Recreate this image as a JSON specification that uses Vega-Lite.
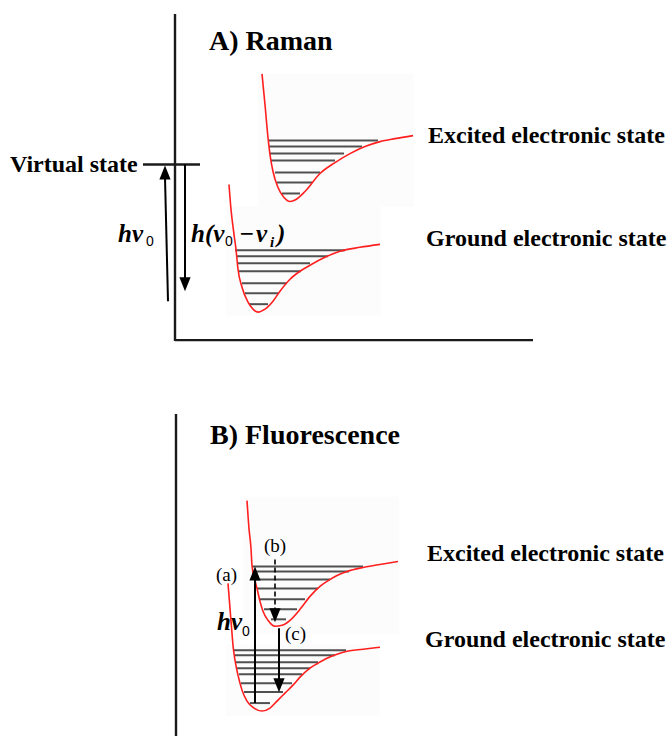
{
  "$schema": "https://vega.github.io/schema/vega-lite/v6.json",
  "width": 670,
  "height": 738,
  "autosize": {"type": "fit", "contains": "padding"},
  "padding": 0,
  "background": "white",
  "view": {"stroke": null},
  "datasets": {
    "panels": [
      {"x": 258, "x2": 414, "y": 74, "y2": 207},
      {"x": 226, "x2": 381, "y": 207, "y2": 317},
      {"x": 243, "x2": 399, "y": 498, "y2": 636},
      {"x": 226, "x2": 380, "y": 646, "y2": 718}
    ],
    "curves": [
      {"c": "EA", "x": 262, "y": 74}, {"c": "EA", "x": 265, "y": 105}, {"c": "EA", "x": 268, "y": 138},
      {"c": "EA", "x": 270, "y": 155}, {"c": "EA", "x": 273, "y": 172}, {"c": "EA", "x": 278, "y": 188},
      {"c": "EA", "x": 284, "y": 198}, {"c": "EA", "x": 290, "y": 202}, {"c": "EA", "x": 296, "y": 200},
      {"c": "EA", "x": 305, "y": 192}, {"c": "EA", "x": 320, "y": 174}, {"c": "EA", "x": 335, "y": 163},
      {"c": "EA", "x": 350, "y": 154}, {"c": "EA", "x": 365, "y": 147}, {"c": "EA", "x": 380, "y": 142},
      {"c": "EA", "x": 395, "y": 139}, {"c": "EA", "x": 413, "y": 136},
      {"c": "GA", "x": 229, "y": 185}, {"c": "GA", "x": 231, "y": 210}, {"c": "GA", "x": 234, "y": 235},
      {"c": "GA", "x": 236, "y": 250}, {"c": "GA", "x": 238, "y": 270}, {"c": "GA", "x": 242, "y": 288},
      {"c": "GA", "x": 248, "y": 303}, {"c": "GA", "x": 253, "y": 310}, {"c": "GA", "x": 258, "y": 313},
      {"c": "GA", "x": 265, "y": 310}, {"c": "GA", "x": 273, "y": 302}, {"c": "GA", "x": 280, "y": 292},
      {"c": "GA", "x": 290, "y": 280}, {"c": "GA", "x": 300, "y": 272}, {"c": "GA", "x": 310, "y": 266},
      {"c": "GA", "x": 325, "y": 258}, {"c": "GA", "x": 340, "y": 252}, {"c": "GA", "x": 360, "y": 248},
      {"c": "GA", "x": 380, "y": 245},
      {"c": "EB", "x": 247, "y": 502}, {"c": "EB", "x": 249, "y": 530}, {"c": "EB", "x": 251, "y": 550},
      {"c": "EB", "x": 252, "y": 567}, {"c": "EB", "x": 255, "y": 582}, {"c": "EB", "x": 257, "y": 590},
      {"c": "EB", "x": 260, "y": 603}, {"c": "EB", "x": 263, "y": 613}, {"c": "EB", "x": 268, "y": 622},
      {"c": "EB", "x": 275, "y": 628}, {"c": "EB", "x": 282, "y": 627}, {"c": "EB", "x": 290, "y": 622},
      {"c": "EB", "x": 300, "y": 611}, {"c": "EB", "x": 310, "y": 598}, {"c": "EB", "x": 320, "y": 588},
      {"c": "EB", "x": 327, "y": 583}, {"c": "EB", "x": 337, "y": 577}, {"c": "EB", "x": 347, "y": 573},
      {"c": "EB", "x": 363, "y": 569}, {"c": "EB", "x": 380, "y": 566}, {"c": "EB", "x": 398, "y": 563},
      {"c": "GB", "x": 228, "y": 585}, {"c": "GB", "x": 230, "y": 610}, {"c": "GB", "x": 232, "y": 635},
      {"c": "GB", "x": 233, "y": 647}, {"c": "GB", "x": 235, "y": 662}, {"c": "GB", "x": 238, "y": 677},
      {"c": "GB", "x": 242, "y": 692}, {"c": "GB", "x": 247, "y": 703}, {"c": "GB", "x": 254, "y": 710},
      {"c": "GB", "x": 262, "y": 713}, {"c": "GB", "x": 270, "y": 710}, {"c": "GB", "x": 277, "y": 703},
      {"c": "GB", "x": 285, "y": 695}, {"c": "GB", "x": 293, "y": 687}, {"c": "GB", "x": 300, "y": 679},
      {"c": "GB", "x": 310, "y": 670}, {"c": "GB", "x": 318, "y": 665}, {"c": "GB", "x": 327, "y": 660},
      {"c": "GB", "x": 337, "y": 656}, {"c": "GB", "x": 347, "y": 653}, {"c": "GB", "x": 363, "y": 651},
      {"c": "GB", "x": 380, "y": 649}
    ],
    "levels": [
      {"x": 268, "x2": 378, "y": 141}, {"x": 269, "x2": 362, "y": 147}, {"x": 270, "x2": 344, "y": 154},
      {"x": 271, "x2": 335, "y": 161}, {"x": 275, "x2": 320, "y": 173}, {"x": 277, "x2": 312, "y": 183},
      {"x": 282, "x2": 300, "y": 194},
      {"x": 235, "x2": 345, "y": 251}, {"x": 236, "x2": 328, "y": 257}, {"x": 237, "x2": 310, "y": 264},
      {"x": 238, "x2": 301, "y": 272}, {"x": 242, "x2": 287, "y": 284}, {"x": 245, "x2": 278, "y": 294},
      {"x": 249, "x2": 268, "y": 305},
      {"x": 252, "x2": 363, "y": 568}, {"x": 253, "x2": 349, "y": 573}, {"x": 255, "x2": 330, "y": 581},
      {"x": 257, "x2": 318, "y": 590}, {"x": 260, "x2": 305, "y": 601}, {"x": 264, "x2": 297, "y": 611},
      {"x": 271, "x2": 286, "y": 621},
      {"x": 234, "x2": 346, "y": 652}, {"x": 235, "x2": 335, "y": 657}, {"x": 236, "x2": 318, "y": 664},
      {"x": 237, "x2": 310, "y": 670}, {"x": 239, "x2": 302, "y": 676}, {"x": 241, "x2": 292, "y": 685},
      {"x": 244, "x2": 283, "y": 694}, {"x": 250, "x2": 270, "y": 705}
    ],
    "frame": [
      {"x": 175, "y": 14, "x2": 175, "y2": 342},
      {"x": 175, "y": 341, "x2": 533, "y2": 341},
      {"x": 176, "y": 415, "x2": 176, "y2": 738},
      {"x": 143, "y": 165, "x2": 200, "y2": 165}
    ],
    "shafts": [
      {"x": 168, "y": 302, "x2": 165, "y2": 178},
      {"x": 185, "y": 165, "x2": 185, "y2": 280},
      {"x": 255, "y": 705, "x2": 255, "y2": 580},
      {"x": 279, "y": 630, "x2": 279, "y2": 682}
    ],
    "dashed": [
      {"x": 275, "y": 561, "x2": 275, "y2": 612}
    ],
    "heads": [
      {"x": 165, "y": 173, "dir": "up"},
      {"x": 185, "y": 285, "dir": "down"},
      {"x": 255, "y": 575, "dir": "up"},
      {"x": 275, "y": 617, "dir": "down"},
      {"x": 279, "y": 687, "dir": "down"}
    ],
    "titles": [
      {"x": 209, "y": 50, "t": "A) Raman"},
      {"x": 210, "y": 445, "t": "B) Fluorescence"}
    ],
    "states": [
      {"x": 10, "y": 172, "t": "Virtual state"},
      {"x": 428, "y": 143, "t": "Excited electronic state"},
      {"x": 426, "y": 247, "t": "Ground electronic state"},
      {"x": 427, "y": 563, "t": "Excited electronic state"},
      {"x": 425, "y": 649, "t": "Ground electronic state"}
    ],
    "symbols": [
      {"x": 118, "y": 243, "t": "hν"},
      {"x": 191, "y": 243, "t": "h(ν"},
      {"x": 239, "y": 243, "t": "−"},
      {"x": 256, "y": 243, "t": "ν"},
      {"x": 277, "y": 243, "t": ")"},
      {"x": 217, "y": 632, "t": "hν"}
    ],
    "zeros": [
      {"x": 146, "y": 247, "t": "0"},
      {"x": 225, "y": 247, "t": "0"},
      {"x": 242, "y": 638, "t": "0"}
    ],
    "subi": [
      {"x": 270, "y": 248, "t": "i"}
    ],
    "marks": [
      {"x": 216, "y": 583, "t": "(a)"},
      {"x": 264, "y": 554, "t": "(b)"},
      {"x": 285, "y": 642, "t": "(c)"}
    ]
  },
  "encoding": {
    "x": {"field": "x", "type": "quantitative", "scale": {"domain": [0, 670], "nice": false, "zero": false}, "axis": null},
    "y": {"field": "y", "type": "quantitative", "scale": {"domain": [0, 738], "nice": false, "zero": false, "reverse": true}, "axis": null}
  },
  "layer": [
    {
      "data": {"name": "panels"},
      "mark": {"type": "rect", "color": "#fcfcfc"},
      "encoding": {"x2": {"field": "x2"}, "y2": {"field": "y2"}}
    },
    {
      "data": {"name": "levels"},
      "mark": {"type": "rule", "color": "#505050", "strokeWidth": 2},
      "encoding": {"x2": {"field": "x2"}}
    },
    {
      "data": {"name": "curves"},
      "mark": {"type": "line", "color": "#ff1f1f", "strokeWidth": 1.6, "interpolate": "monotone"},
      "encoding": {"detail": {"field": "c", "type": "nominal"}}
    },
    {
      "data": {"name": "frame"},
      "mark": {"type": "rule", "color": "#1a1a1a", "strokeWidth": 2.4},
      "encoding": {"x2": {"field": "x2"}, "y2": {"field": "y2"}}
    },
    {
      "data": {"name": "shafts"},
      "mark": {"type": "rule", "color": "#000000", "strokeWidth": 2},
      "encoding": {"x2": {"field": "x2"}, "y2": {"field": "y2"}}
    },
    {
      "data": {"name": "dashed"},
      "mark": {"type": "rule", "color": "#000000", "strokeWidth": 1.6, "strokeDash": [5, 3]},
      "encoding": {"x2": {"field": "x2"}, "y2": {"field": "y2"}}
    },
    {
      "data": {"name": "heads"},
      "mark": {"type": "point", "filled": true, "color": "#000000", "opacity": 1, "size": 196, "strokeWidth": 0},
      "encoding": {
        "shape": {
          "field": "dir",
          "type": "nominal",
          "scale": {"domain": ["up", "down"], "range": ["M0,-1L-0.8,1L0.8,1Z", "M0,1L-0.8,-1L0.8,-1Z"]},
          "legend": null
        }
      }
    },
    {
      "data": {"name": "titles"},
      "mark": {"type": "text", "align": "left", "baseline": "alphabetic", "font": "Liberation Serif", "fontWeight": "bold", "fontSize": 28, "color": "#000000"},
      "encoding": {"text": {"field": "t"}}
    },
    {
      "data": {"name": "states"},
      "mark": {"type": "text", "align": "left", "baseline": "alphabetic", "font": "Liberation Serif", "fontWeight": "bold", "fontSize": 24, "color": "#000000"},
      "encoding": {"text": {"field": "t"}}
    },
    {
      "data": {"name": "symbols"},
      "mark": {"type": "text", "align": "left", "baseline": "alphabetic", "font": "Liberation Serif", "fontWeight": "bold", "fontStyle": "italic", "fontSize": 25, "color": "#000000"},
      "encoding": {"text": {"field": "t"}}
    },
    {
      "data": {"name": "zeros"},
      "mark": {"type": "text", "align": "left", "baseline": "alphabetic", "font": "Liberation Sans", "fontSize": 14, "color": "#000000"},
      "encoding": {"text": {"field": "t"}}
    },
    {
      "data": {"name": "subi"},
      "mark": {"type": "text", "align": "left", "baseline": "alphabetic", "font": "Liberation Serif", "fontWeight": "bold", "fontStyle": "italic", "fontSize": 15, "color": "#000000"},
      "encoding": {"text": {"field": "t"}}
    },
    {
      "data": {"name": "marks"},
      "mark": {"type": "text", "align": "left", "baseline": "alphabetic", "font": "Liberation Serif", "fontSize": 19, "color": "#000000"},
      "encoding": {"text": {"field": "t"}}
    }
  ]
}
